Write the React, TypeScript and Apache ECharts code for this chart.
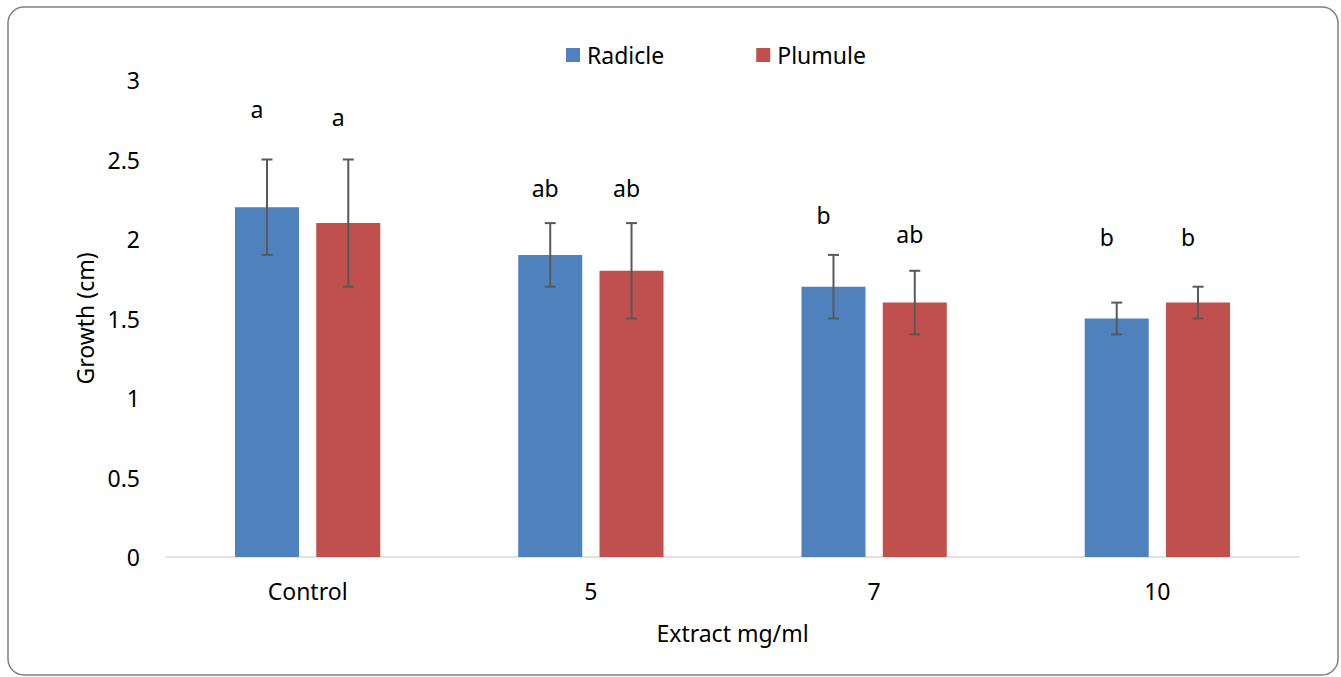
import React, { useEffect, useRef } from "react";
import * as echarts from "echarts";

const categories = ["Control", "5", "7", "10"];
const radicle = [2.2, 1.9, 1.7, 1.5];
const plumule = [2.1, 1.8, 1.6, 1.6];
const radicleErr = [0.3, 0.2, 0.2, 0.1];
const plumuleErr = [0.4, 0.3, 0.2, 0.1];
const radicleLetters = ["a", "ab", "b", "b"];
const plumuleLetters = ["a", "ab", "ab", "b"];
const radicleLetterY = [2.82, 2.32, 2.15, 2.01];
const plumuleLetterY = [2.77, 2.32, 2.03, 2.01];
const yTicks = { min: 0, max: 3, interval: 0.5 };

const FONT = "Noto Sans";
const FS = 23;
const BAR_FRAC = 0.226;
const GAP_FRAC = 0.27;
const OFFSET_FRAC = (BAR_FRAC * (1 + GAP_FRAC)) / 2;

function errSeries(vals: number[], errs: number[], sign: number) {
  return {
    type: "custom",
    silent: true,
    z: 5,
    data: vals.map((v, i) => [i, v - errs[i], v + errs[i]]),
    renderItem: (params: any, api: any) => {
      const band = api.size([1, 0])[0];
      const top = api.coord([api.value(0), api.value(2)]);
      const bot = api.coord([api.value(0), api.value(1)]);
      const x = top[0] + sign * band * OFFSET_FRAC;
      const st = { stroke: "#595959", lineWidth: 2 };
      return {
        type: "group",
        children: [
          { type: "line", shape: { x1: x, y1: top[1], x2: x, y2: bot[1] }, style: st },
          { type: "line", shape: { x1: x - 5.5, y1: top[1], x2: x + 5.5, y2: top[1] }, style: st },
          { type: "line", shape: { x1: x - 5.5, y1: bot[1], x2: x + 5.5, y2: bot[1] }, style: st },
        ],
      };
    },
  };
}

function letterSeries(letters: string[], ys: number[], sign: number) {
  return {
    type: "custom",
    silent: true,
    z: 6,
    data: ys.map((y, i) => [i, y]),
    renderItem: (params: any, api: any) => {
      const band = api.size([1, 0])[0];
      const p = api.coord([api.value(0), api.value(1)]);
      const t = letters[params.dataIndex];
      const x = p[0] + sign * band * OFFSET_FRAC + (t.length > 1 ? -5 : -10);
      return {
        type: "text",
        x,
        y: p[1],
        style: {
          text: t,
          fill: "#000",
          font: `${FS}px "${FONT}"`,
          align: "center",
          verticalAlign: "middle",
          textAlign: "center",
          textVerticalAlign: "middle",
        },
      };
    },
  };
}

export default function App() {
  const ref = useRef<HTMLDivElement>(null);
  useEffect(() => {
    if (!ref.current) return;
    const chart = echarts.init(ref.current, undefined, { renderer: "svg" });
    chart.setOption({
      animation: false,
      backgroundColor: "#fff",
      textStyle: { fontFamily: FONT },
      graphic: [
        {
          type: "rect",
          shape: { x: 8, y: 7, width: 1330, height: 668, r: 16 },
          style: { fill: "none", stroke: "#808080", lineWidth: 1.5 },
          z: -1,
        },
      ],
      legend: {
        data: ["Radicle", "Plumule"],
        left: 561,
        top: 38,
        itemWidth: 14,
        itemHeight: 14,
        itemGap: 92,
        icon: "rect",
        textStyle: { fontSize: FS, color: "#000", fontFamily: FONT, lineHeight: 24, padding: [0, 0, 0, 2] },
      },
      grid: { left: 166, right: 42, top: 80, bottom: 120 },
      xAxis: {
        type: "category",
        data: categories,
        axisLine: { lineStyle: { color: "#d9d9d9", width: 1.5 } },
        axisTick: { show: false },
        axisLabel: { fontSize: FS, color: "#000", margin: 22, fontFamily: FONT },
        name: "Extract mg/ml",
        nameLocation: "middle",
        nameGap: 64,
        nameTextStyle: { fontSize: FS, color: "#000", fontFamily: FONT },
      },
      yAxis: {
        type: "value",
        min: yTicks.min,
        max: yTicks.max,
        interval: yTicks.interval,
        axisLine: { show: false },
        axisTick: { show: false },
        splitLine: { show: false },
        axisLabel: { fontSize: FS, color: "#000", margin: 26, fontFamily: FONT },
        name: "Growth (cm)",
        nameLocation: "middle",
        nameGap: 68,
        nameTextStyle: { fontSize: FS, color: "#000", fontFamily: FONT },
      },
      series: [
        {
          name: "Radicle",
          type: "bar",
          data: radicle,
          barWidth: BAR_FRAC * 100 + "%",
          barGap: GAP_FRAC * 100 + "%",
          itemStyle: { color: "#4F81BD" },
        },
        {
          name: "Plumule",
          type: "bar",
          data: plumule,
          barWidth: BAR_FRAC * 100 + "%",
          barGap: GAP_FRAC * 100 + "%",
          itemStyle: { color: "#C0504D" },
        },
        errSeries(radicle, radicleErr, -1),
        errSeries(plumule, plumuleErr, 1),
        letterSeries(radicleLetters, radicleLetterY, -1),
        letterSeries(plumuleLetters, plumuleLetterY, 1),
      ],
    });
    return () => chart.dispose();
  }, []);
  return (
    <div
      ref={ref}
      style={{ position: "fixed", left: 0, top: 0, width: 1341, height: 677 }}
    />
  );
}
